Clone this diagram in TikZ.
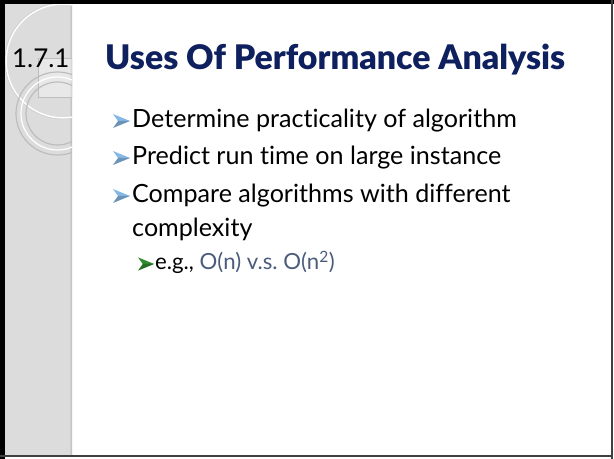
\documentclass[tikz,border=0pt]{standalone}
\usepackage{fontspec}
\setmainfont[Ligatures=NoCommon, BoldFont={Lato Black}]{Lato}
\frenchspacing
\definecolor{stripgray}{HTML}{DCDCDC}
\definecolor{titlenavy}{HTML}{0E205E}
\definecolor{bulletblue}{HTML}{86B8E6}
\definecolor{bulletgreen}{HTML}{2E8B2E}
\definecolor{slatetext}{HTML}{4A5B7C}
\definecolor{ringgray}{HTML}{BDBDBD}
\tikzset{
  bodytext/.style={anchor=base west, inner sep=0pt, font=\fontsize{25.2}{30}\selectfont, text=black},
  subtext/.style={anchor=base west, inner sep=0pt, font=\fontsize{22.3}{26}\selectfont, text=black},
  % arrowhead bullet: light upper half, darker lower half
  arrowbullet/.pic={
    \fill[#1] (0,-7) -- (17,0) -- (5,0) -- cycle;
    \fill[#1!80!black] (0,7) -- (17,0) -- (5,0) -- cycle;
  },
}
\begin{document}
\begin{tikzpicture}[x=1bp,y=-1bp]
\useasboundingbox (0,0) rectangle (614,459);
% page
\fill[white] (0,0) rectangle (614,459);
% left decorative strip
\fill[stripgray] (4,4) rectangle (72,456);
\shade[left color=stripgray, right color=black!28] (69,4) rectangle (72,456);
% ornament circles in the strip
\begin{scope}
  \clip (4,4) rectangle (72,456);
  \fill[white, opacity=0.35] (38,58) rectangle (72,97);
  \draw[ringgray, line width=0.8pt] (38,58) rectangle (72,97);
  \draw[white, line width=1.6pt] (63,61) circle[radius=57];
  \draw[ringgray!80, line width=0.5pt] (63,61) circle[radius=58];
  \draw[ringgray, line width=1.2pt] (57.5,113.5) circle[radius=41.5];
  \draw[white, line width=1.2pt] (57.5,113.5) circle[radius=36.5];
  \draw[ringgray, line width=1.2pt] (57.5,113.5) circle[radius=31.5];
\end{scope}
% frame
\fill[black] (0,0) rectangle (5,459);
\fill[black] (0,0) rectangle (614,4);
\fill[black!75] (611,0) rectangle (613,459);
\fill[black!75] (0,455) rectangle (613,457);
% section number and title
\node[anchor=base west, inner sep=0pt, font=\fontsize{26}{30}\selectfont] (num) at (12,68) {1.7.1};
\node[anchor=base west, inner sep=0pt, font=\bfseries\fontsize{34}{40}\selectfont, text=titlenavy] (title) at (105,70) {Uses Of Performance Analysis};
% bullets
\pic at (113,121) {arrowbullet=bulletblue};
\node[bodytext] (t1) at (132,128) {Determine practicality of algorithm};
\pic at (113,158) {arrowbullet=bulletblue};
\node[bodytext] (t2) at (132,165) {Predict run time on large instance};
\pic at (113,196) {arrowbullet=bulletblue};
\node[bodytext] (t3) at (132,203) {Compare algorithms with different};
\node[bodytext] (t4) at (132,237) {complexity};
\pic[scale=0.95] at (138,264) {arrowbullet=bulletgreen};
\node[subtext] (t5) at (155,270) {e.g., \textcolor{slatetext}{O(n) v.s. O(n\textsuperscript{2})}};
\end{tikzpicture}
\end{document}
